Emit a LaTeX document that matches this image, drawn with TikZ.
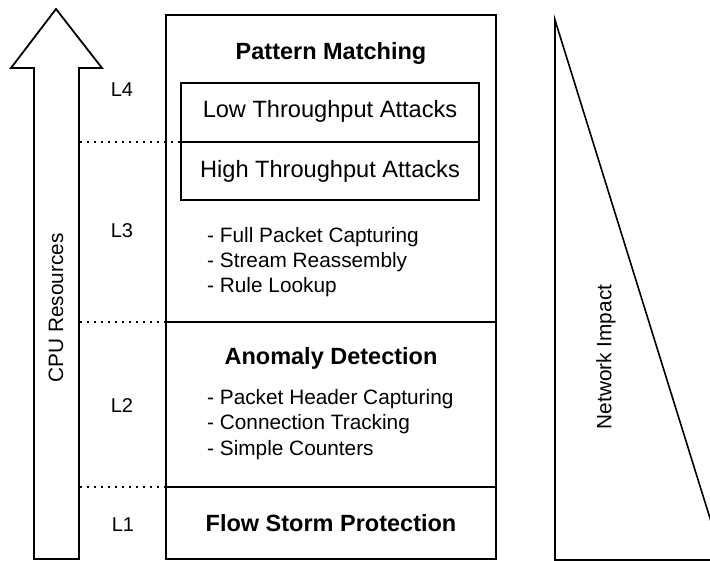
\documentclass[tikz,border=0pt]{standalone}
\usepackage{fontspec}
\setmainfont{Liberation Sans}
\begin{document}
\begin{tikzpicture}[x=1pt,y=-1pt,
  txt/.style={font=\fontsize{20.8}{24}\selectfont, inner sep=0pt},
  lvl/.style={font=\fontsize{20}{24}\selectfont, inner sep=0pt, anchor=base},
  big/.style={font=\fontsize{23.6}{28}\selectfont, inner sep=0pt, anchor=base},
  ttl/.style={font=\fontsize{23.5}{28}\selectfont\bfseries, inner sep=0pt, anchor=base},
  boxline/.style={line width=2.6pt},
  dotline/.style={line width=2pt, dash pattern=on 2pt off 5pt},
  arrowline/.style={line width=1.8pt, line join=miter},
  triline/.style={line width=1.6pt}]
\useasboundingbox (0,0) rectangle (710,561);
\fill[white] (0,0) rectangle (710,561);

% CPU arrow
\draw[arrowline] (56,9) -- (102,68) -- (79,68) -- (79,559) -- (34,559) -- (34,68) -- (11,68) -- cycle;
\node[txt, rotate=90, anchor=center] (cpu) at (56,308) {CPU Resources};

% dotted separators
\coordinate (d4a) at (80,142);
\coordinate (d4b) at (181,142);
\coordinate (d3a) at (80,322);
\coordinate (d3b) at (166,322);
\coordinate (d2a) at (80,487);
\coordinate (d2b) at (166,487);
\draw[dotline] (d4a) -- (d4b);
\draw[dotline] (d3a) -- (d3b);
\draw[dotline] (d2a) -- (d2b);

% level labels
\node[lvl] (l4) at (122,97) {L4};
\node[lvl] (l3) at (122,238) {L3};
\node[lvl] (l2) at (122,413) {L2};
\node[lvl] (l1) at (123,531) {L1};

% main box
\draw[boxline] (166,15) rectangle (496,559);
\draw[boxline] (166,322) -- (496,322);
\draw[boxline] (166,487) -- (496,487);

% inner boxes
\draw[boxline] (181,83) rectangle (479,200);
\draw[boxline] (181,142) -- (479,142);

% titles
\node[ttl] (pm) at (331,60) {Pattern Matching};
\node[big] (low) at (330,118) {Low Throughput Attacks};
\node[big] (high) at (330,178) {High Throughput Attacks};
\node[ttl] (ad) at (331,365) {Anomaly Detection};
\node[ttl] (fsp) at (331,531) {Flow Storm Protection};

% lists
\node[txt, anchor=base west] (a1) at (207,243) {- Full Packet Capturing};
\node[txt, anchor=base west] (a2) at (207,268) {- Stream Reassembly};
\node[txt, anchor=base west] (a3) at (207,293) {- Rule Lookup};
\node[txt, anchor=base west] (b1) at (207,405) {- Packet Header Capturing};
\node[txt, anchor=base west] (b2) at (207,430) {- Connection Tracking};
\node[txt, anchor=base west] (b3) at (207,455) {- Simple Counters};

% network impact triangle
\begin{scope}
\clip (0,0) rectangle (710,561);
\draw[triline] (555,20) -- (555,560) -- (723,560) -- cycle;
\end{scope}
\node[txt, rotate=90, anchor=center] (ni) at (606,357) {Network Impact};
\end{tikzpicture}
\end{document}
